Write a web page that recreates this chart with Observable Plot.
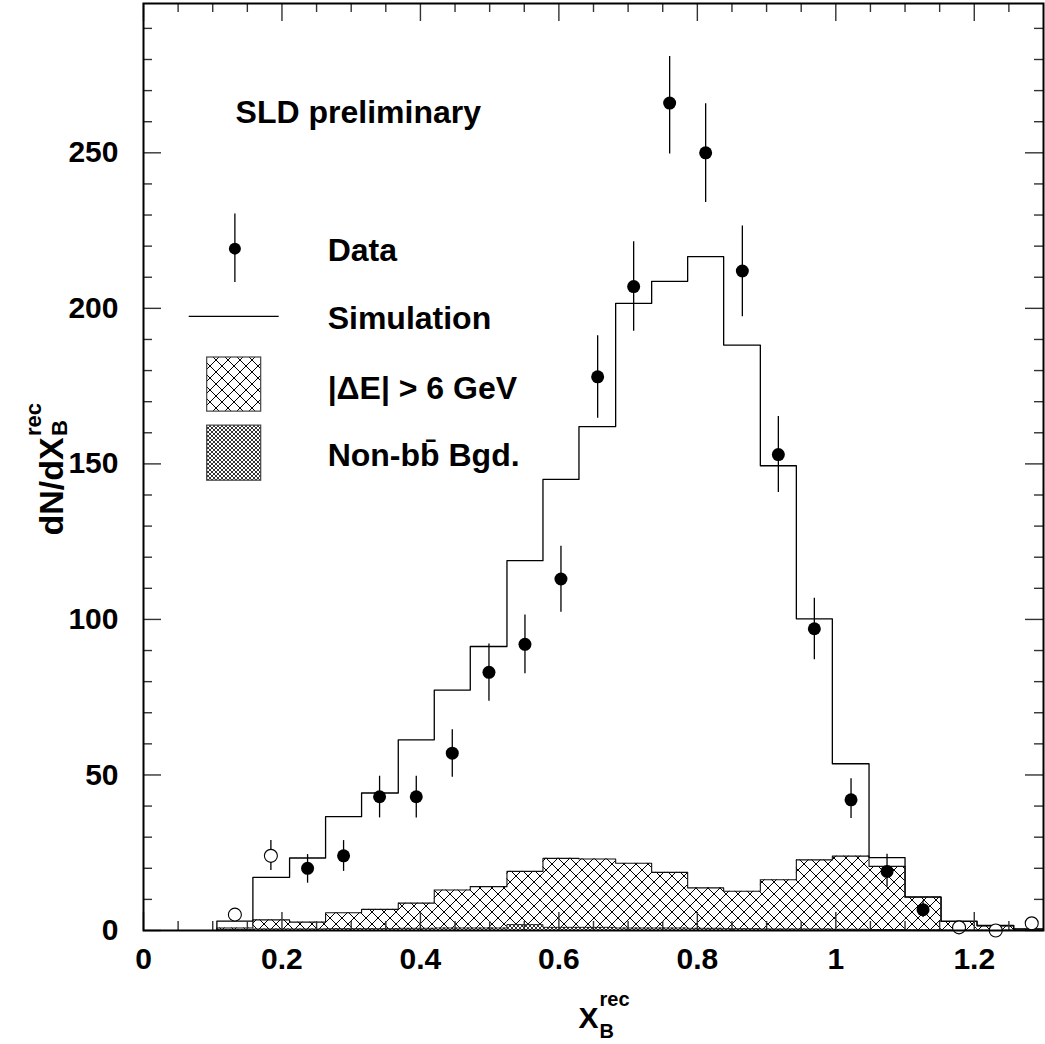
<!DOCTYPE html>
<html>
<head>
<meta charset="utf-8">
<script src="https://cdn.jsdelivr.net/npm/d3@7"></script>
<script src="https://cdn.jsdelivr.net/npm/@observablehq/plot@0.6"></script>
<style>
  html, body { margin: 0; padding: 0; background: white; }
  #chart svg { display: block; }
</style>
</head>
<body>
<div id="chart"></div>
<script>
// ---------------- data ----------------
const binEdges = [0.106,0.158,0.211,0.263,0.315,0.368,0.420,0.472,0.525,0.577,0.629,0.682,0.734,0.786,0.838,0.891,0.943,0.995,1.048,1.100,1.152,1.204,1.257,1.300];
const binCenters = [0.132,0.184,0.237,0.289,0.341,0.394,0.446,0.499,0.551,0.603,0.656,0.708,0.760,0.812,0.865,0.917,0.969,1.022,1.074,1.126,1.178,1.231,1.283];
const simulation = [3.0,17.1,23.3,36.6,44.2,61.3,77.3,91.3,118.9,145.0,162.0,201.6,208.7,216.6,188.2,149.4,100.2,53.6,23.4,10.8,3.0,1.6,0.5];
const deltaE     = [0.8,3.4,2.7,5.7,6.8,8.8,13.0,14.1,19.0,23.2,23.0,21.6,18.7,13.7,12.6,16.3,22.7,23.9,20.6,10.7,2.9,1.5,0.4];
const nonBB      = [0.3,0.5,0.5,0.6,0.6,0.7,0.8,0.8,1.9,1.0,1.0,0.8,0.8,0.7,0.6,0.5,0.5,0.4,0.3,0.2,0.1,0.1,0.0];
const dataY      = [5.1,24,20,24,43,43,57,83,92,113,178,207,266,250,212,153,97,42,19,6.7,1.0,0.0,2.3];
const dataLo     = [3.5,19.3,15.2,19.0,36.2,36.2,49.3,73.7,82.5,102.3,164.7,192.6,249.6,234.0,197.3,140.8,87.0,36.0,14.0,4.2,0.0,0.0,1.0];
const dataHi     = [6.8,28.9,24.4,28.9,49.6,49.6,64.5,92.1,101.4,123.5,191.2,221.4,281.0,265.8,226.5,165.2,106.8,48.8,24.5,9.5,2.0,0.8,3.6];
const markerType = ["open","open","filled","filled","filled","filled","filled","filled","filled","filled","filled","filled","filled","filled","filled","filled","filled","filled","filled","filled","open","open","open"];

const xMajorTicks = [0,0.2,0.4,0.6,0.8,1,1.2];
const xTickLabels = ["0","0.2","0.4","0.6","0.8","1","1.2"];
const xMinorTicks = [0.05,0.1,0.15,0.25,0.3,0.35,0.45,0.5,0.55,0.65,0.7,0.75,0.85,0.9,0.95,1.05,1.1,1.15,1.25];
const yMajorTicks = [0,50,100,150,200,250];
const yTickLabels = ["0","50","100","150","200","250"];
const yMinorTicks = [10,20,30,40,60,70,80,90,110,120,130,140,160,170,180,190,210,220,230,240,260,270,280,290];

// ---------------- derived tables ----------------
const bins = binCenters.map((c, i) => ({
  x1: binEdges[i], x2: binEdges[i + 1], sim: simulation[i], de: deltaE[i], nb: nonBB[i],
  xc: c, y: dataY[i], lo: dataLo[i], hi: dataHi[i], type: markerType[i]
}));
function stepPoints(values) {
  const pts = [{x: binEdges[0], y: 0}];
  values.forEach((v, i) => pts.push({x: binEdges[i], y: v}));
  pts.push({x: binEdges[values.length], y: values[values.length - 1]});
  return pts;
}

const W = 1045, H = 1044, mL = 143, mR = 2, mT = 3, mB = 114;
const iw = W - mL - mR, ih = H - mT - mB;
const FONT = "'Liberation Sans', Arial, Helvetica, sans-serif";
const tickColor = "#333";

const svg = Plot.plot({
  width: W, height: H,
  marginLeft: mL, marginRight: mR, marginTop: mT, marginBottom: mB,
  x: {domain: [0, 1.3], axis: null},
  y: {domain: [0, 298], axis: null},
  style: {background: "white", fontFamily: FONT},
  marks: [
    // |dE| > 6 GeV hatched histogram
    Plot.rect(bins, {x1: "x1", x2: "x2", y1: 0, y2: "de", fill: "url(#hatchDE)"}),
    Plot.line(stepPoints(deltaE), {x: "x", y: "y", curve: "step-after", stroke: "#111", strokeWidth: 1.1}),
    // non-bb background
    Plot.rect(bins, {x1: "x1", x2: "x2", y1: 0, y2: "nb", fill: "url(#hatchNB)"}),
    Plot.line(stepPoints(nonBB), {x: "x", y: "y", curve: "step-after", stroke: "#111", strokeWidth: 0.8}),
    // simulation
    Plot.line(stepPoints(simulation), {x: "x", y: "y", curve: "step-after", stroke: "black", strokeWidth: 1.3}),

    // ticks (inside, all four sides)
    Plot.tickX(xMajorTicks, {x: d => d, insetBottom: ih - 18, stroke: tickColor, strokeWidth: 1.4}),
    Plot.tickX(xMinorTicks, {x: d => d, insetBottom: ih - 9, stroke: tickColor, strokeWidth: 1.4}),
    Plot.tickX(xMajorTicks, {x: d => d, insetTop: ih - 18, stroke: tickColor, strokeWidth: 1.4}),
    Plot.tickX(xMinorTicks, {x: d => d, insetTop: ih - 9, stroke: tickColor, strokeWidth: 1.4}),
    Plot.tickY(yMajorTicks, {y: d => d, insetRight: iw - 18, stroke: tickColor, strokeWidth: 1.4}),
    Plot.tickY(yMinorTicks, {y: d => d, insetRight: iw - 9, stroke: tickColor, strokeWidth: 1.4}),
    Plot.tickY(yMajorTicks, {y: d => d, insetLeft: iw - 18, stroke: tickColor, strokeWidth: 1.4}),
    Plot.tickY(yMinorTicks, {y: d => d, insetLeft: iw - 9, stroke: tickColor, strokeWidth: 1.4}),

    // data
    Plot.ruleX(bins, {x: "xc", y1: "lo", y2: "hi", stroke: "black", strokeWidth: 1.3}),
    Plot.dot(bins.filter(d => d.type === "filled"), {x: "xc", y: "y", r: 6.5, fill: "black", stroke: "none"}),
    Plot.dot(bins.filter(d => d.type === "open"), {x: "xc", y: "y", r: 6.5, fill: "white", stroke: "black", strokeWidth: 1.1}),

    // in-plot annotation and legend
    Plot.text(["SLD preliminary"], {x: 0.133, y: 259.7, text: d => d, textAnchor: "start", lineAnchor: "bottom", fontSize: 32, fontWeight: "bold", fontFamily: FONT}),
    Plot.ruleX([0.132], {x: d => d, y1: 208.3, y2: 230.3, stroke: "black", strokeWidth: 1.3}),
    Plot.dot([0.132], {x: d => d, y: 219.2, r: 6, fill: "black"}),
    Plot.ruleY([197.4], {y: d => d, x1: 0.066, x2: 0.196, stroke: "black", strokeWidth: 1.3}),
    Plot.rect([0], {x1: 0.092, x2: 0.170, y1: 166.8, y2: 184.2, fill: "url(#hatchDE)", stroke: "#444", strokeWidth: 1.2}),
    Plot.rect([0], {x1: 0.092, x2: 0.170, y1: 144.6, y2: 162.3, fill: "url(#hatchNB)", stroke: "#444", strokeWidth: 1.2}),
    Plot.text(["Data"], {x: 0.266, y: 215.3, text: d => d, textAnchor: "start", lineAnchor: "bottom", fontSize: 32, fontWeight: "bold", fontFamily: FONT}),
    Plot.text(["Simulation"], {x: 0.266, y: 193.4, text: d => d, textAnchor: "start", lineAnchor: "bottom", fontSize: 32, fontWeight: "bold", fontFamily: FONT}),
    Plot.text(["|ΔE| > 6 GeV"], {x: 0.266, y: 171.0, text: d => d, textAnchor: "start", lineAnchor: "bottom", fontSize: 32, fontWeight: "bold", fontFamily: FONT}),
    Plot.text(["Non-bb\u0304 Bgd."], {x: 0.266, y: 149.4, text: d => d, textAnchor: "start", lineAnchor: "bottom", fontSize: 32, fontWeight: "bold", fontFamily: FONT}),

    // tick labels
    Plot.text(xMajorTicks, {x: d => d, text: (d, i) => xTickLabels[i], frameAnchor: "bottom", dy: 38.5, lineAnchor: "bottom", textAnchor: "middle", fontSize: 30, fontWeight: "bold", fontFamily: FONT}),
    Plot.text(yMajorTicks, {y: d => d, text: (d, i) => yTickLabels[i], frameAnchor: "left", dx: -25, textAnchor: "end", lineAnchor: "middle", fontSize: 30, fontWeight: "bold", fontFamily: FONT}),

    // axis titles
    Plot.text(["X"], {frameAnchor: "bottom", text: d => d, dx: -15, dy: 97, textAnchor: "start", lineAnchor: "bottom", fontSize: 30, fontWeight: "bold", fontFamily: FONT}),
    Plot.text(["rec"], {frameAnchor: "bottom", text: d => d, dx: 6, dy: 75, textAnchor: "start", lineAnchor: "bottom", fontSize: 20, fontWeight: "bold", fontFamily: FONT}),
    Plot.text(["B"], {frameAnchor: "bottom", text: d => d, dx: 6, dy: 107, textAnchor: "start", lineAnchor: "bottom", fontSize: 20, fontWeight: "bold", fontFamily: FONT}),
    Plot.text(["dN/dX"], {frameAnchor: "left", text: d => d, rotate: -90, dx: -81, dy: 68.5, textAnchor: "start", lineAnchor: "bottom", fontSize: 34, fontWeight: "bold", fontFamily: FONT}),
    Plot.text(["rec"], {frameAnchor: "left", text: d => d, rotate: -90, dx: -103, dy: -31, textAnchor: "start", lineAnchor: "bottom", fontSize: 22, fontWeight: "bold", fontFamily: FONT}),
    Plot.text(["B"], {frameAnchor: "left", text: d => d, rotate: -90, dx: -77, dy: -31, textAnchor: "start", lineAnchor: "bottom", fontSize: 22, fontWeight: "bold", fontFamily: FONT}),

    Plot.frame({stroke: "black", strokeWidth: 2})
  ]
});

d3.select(svg).insert("defs", ":first-child").html(`
  <pattern id="hatchDE" patternUnits="userSpaceOnUse" width="12" height="12">
    <rect width="12" height="12" fill="white"/>
    <path d="M0,0L12,12M12,0L0,12" stroke="#000" stroke-width="1" fill="none"/>
  </pattern>
  <pattern id="hatchNB" patternUnits="userSpaceOnUse" width="4" height="4">
    <rect width="4" height="4" fill="white"/>
    <path d="M0,0L4,4M4,0L0,4" stroke="#000" stroke-width="0.8" fill="none"/>
  </pattern>
`);
document.getElementById("chart").appendChild(svg);
</script>
</body>
</html>
